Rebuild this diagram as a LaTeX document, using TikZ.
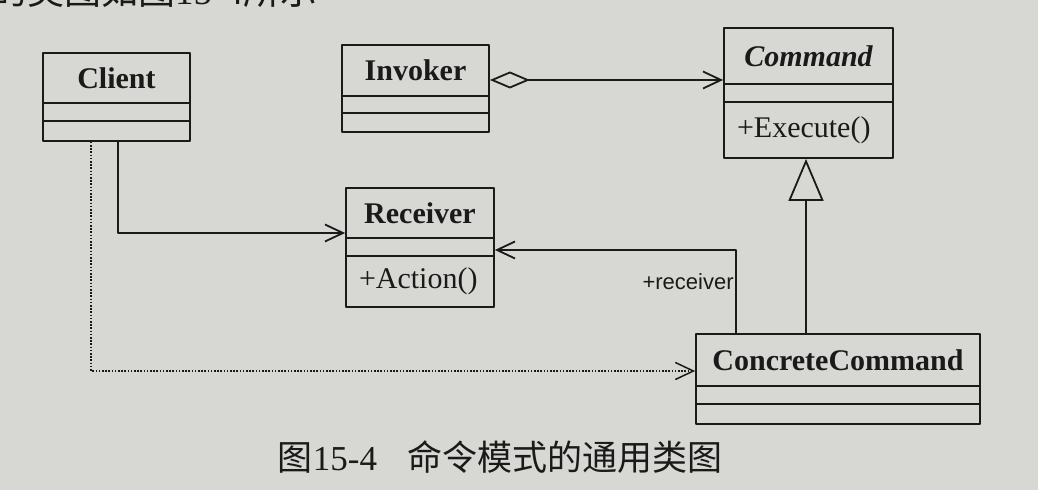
\documentclass[tikz,border=0pt]{standalone}
\usepackage{fontspec}
\setmainfont{Liberation Serif}
\newfontfamily\receiverfont{Liberation Sans}
\newfontfamily\cjk{Noto Sans CJK SC}
\usetikzlibrary{arrows.meta}
\definecolor{paper}{RGB}{215,215,211}
\definecolor{ink}{RGB}{26,26,26}
\begin{document}
\begin{tikzpicture}[>={Straight Barb[length=18bp,width=17bp]},line join=bevel,
  classname/.style={draw=ink,line width=1.8bp,text=ink,font=\fontsize{30bp}{34bp}\selectfont\bfseries},
  classpart/.style={draw=ink,line width=1.8bp,text=ink,font=\fontsize{30bp}{34bp}\selectfont,align=left,inner xsep=13bp},
  link/.style={ink,line width=1.8bp},
]
%%
\fill [paper] (0bp,0bp) rectangle (1038bp,490bp);
\useasboundingbox (0bp,0bp) rectangle (1038bp,490bp);
\node (node_intro) at (-10bp,485.5bp) [anchor=base west,text=ink,inner sep=0pt] {\fontsize{37bp}{40bp}\selectfont\cjk 的类图如图\rmfamily 15-4\cjk 所示};
%
\node (node_client) at (116.5bp,412bp) [classname,minimum width=147bp,minimum height=50bp] {Client};
  \node (node_client_attr) at (116.5bp,378bp) [classpart,minimum width=147bp,minimum height=18bp] {};
  \node (node_client_op) at (116.5bp,359bp) [classpart,minimum width=147bp,minimum height=20bp] {};
  \node (node_invoker) at (415.5bp,419.5bp) [classname,minimum width=147bp,minimum height=51bp] {Invoker};
  \node (node_invoker_attr) at (415.5bp,385.5bp) [classpart,minimum width=147bp,minimum height=17bp] {};
  \node (node_invoker_op) at (415.5bp,367.5bp) [classpart,minimum width=147bp,minimum height=19bp] {};
  \node (node_command) at (808.5bp,434bp) [classname,minimum width=169bp,minimum height=56bp] {\itshape Command};
  \node (node_command_attr) at (808.5bp,397bp) [classpart,minimum width=169bp,minimum height=18bp] {};
  \node (node_command_op) at (808.5bp,360bp) [classpart,minimum width=169bp,minimum height=56bp,text width=143bp] {+Execute()};
  \node (node_receiver) at (420bp,277bp) [classname,minimum width=148bp,minimum height=50bp] {Receiver};
  \node (node_receiver_attr) at (420bp,243bp) [classpart,minimum width=148bp,minimum height=18bp] {};
  \node (node_receiver_op) at (420bp,208.5bp) [classpart,minimum width=148bp,minimum height=51bp,text width=122bp] {+Action()};
  \node (node_cc) at (838bp,130bp) [classname,minimum width=284bp,minimum height=52bp] {ConcreteCommand};
  \node (node_cc_attr) at (838bp,95bp) [classpart,minimum width=284bp,minimum height=18bp] {};
  \node (node_cc_op) at (838bp,76bp) [classpart,minimum width=284bp,minimum height=20bp] {};
  \draw [link,{Diamond[open,length=40bp,width=17bp]}->] ([yshift=-9.5bp]node_invoker.east) -- ([yshift=-24bp]node_command.west);
  \draw [link,->] ([xshift=1.5bp]node_client_op.south) |- ([yshift=-20bp]node_receiver.west);
  \draw [link,line width=1.5bp,dash pattern=on 1.6bp off 1.6bp,->] ([xshift=-25.5bp]node_client_op.south) |- ([yshift=-11bp]node_cc.west);
  \draw [link,->] ([xshift=-102bp]node_cc.north) |- ([yshift=-3bp]node_receiver_attr.east) node (label_receiver) [pos=0.31,left,inner sep=1.5bp,text=ink,font=\receiverfont\fontsize{22bp}{26bp}\selectfont] {+receiver};
  \draw [link,-{Triangle[open,length=42bp,width=35bp,fill=paper]}] ([xshift=-32bp]node_cc.north) -- ([xshift=-2.5bp]node_command_op.south);
%
\node (node_caption) at (500bp,33bp) [text=ink,inner sep=0pt] {\fontsize{35bp}{40bp}\selectfont\cjk 图\rmfamily 15-4\hspace{30bp}\cjk 命令模式的通用类图};
%
\end{tikzpicture}
\end{document}
